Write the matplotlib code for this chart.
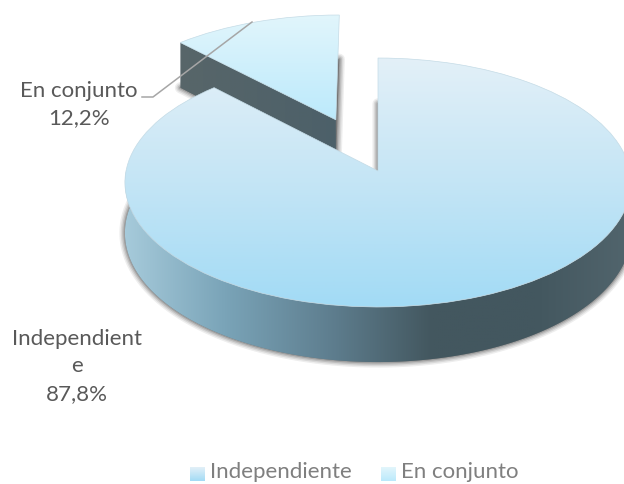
import numpy as np
import matplotlib
matplotlib.use('Agg')
import matplotlib.pyplot as plt
from matplotlib.colors import LinearSegmentedColormap
from matplotlib.patches import Polygon
from matplotlib.transforms import Transform

plt.rcParams['font.family'] = ['Lato', 'DejaVu Sans']

# Data
categories = ['Independiente', 'En conjunto']
shares = [87.8, 12.2]
share_labels = ['87,8%', '12,2%']

# Pie geometry in picture pixels
CX, CY = 378, 171
RX, RY = 252, 123.4
TILT = 0.0924
DEPTH = 50
EXPLODE = 0.465


class Tilt(Transform):
    # flat pie circle -> perspective view of the disc
    input_dims = 2
    output_dims = 2

    def transform_non_affine(self, values):
        values = np.asarray(values, dtype=float)
        w = 1 + TILT * values[:, 1]
        return np.column_stack([CX + RX * values[:, 0] / w, CY - RY * values[:, 1] / w])


def plane(u, v, drop=0):
    u = np.atleast_1d(u)
    v = np.atleast_1d(v)
    w = 1 + TILT * v
    return np.column_stack([CX + RX * u / w, CY - RY * v / w + drop / w])


def rim(center, t1, t2, drop=0, n=200):
    t = np.radians(np.linspace(t1, t2, n))
    return plane(center[0] + np.cos(t), center[1] + np.sin(t), drop)


def gradient(ax, box, colors, clip, vertical=True, z=1):
    cmap = LinearSegmentedColormap.from_list('g', colors)
    g = np.linspace(0, 1, 256)
    g = g.reshape(-1, 1) if vertical else g.reshape(1, -1)
    im = ax.imshow(g, cmap=cmap, extent=box, aspect='auto', origin='upper',
                   interpolation='bilinear', zorder=z, vmin=0, vmax=1)
    im.set_clip_path(clip)
    return im


def soft_shadow(ax, pts, z):
    for lw, a in [(8, 0.10), (6, 0.14), (4, 0.2), (2, 0.3)]:
        ax.add_patch(Polygon(pts, closed=True, facecolor=(0.35, 0.35, 0.35, a),
                             edgecolor=(0.35, 0.35, 0.35, a), lw=lw, joinstyle='round', zorder=z))


fig = plt.figure(figsize=(6.24, 4.84), dpi=100)
ax = fig.add_axes([0, 0, 1, 1])

wedges, _ = ax.pie(shares, startangle=90, counterclock=False, explode=[0, EXPLODE],
                   radius=1, frame=False)
main, piece = wedges
tilt = Tilt() + ax.transData

# exploded slice: shadow, side wall, top
z = 2
low = np.vstack([plane(*piece.center, DEPTH), rim(piece.center, piece.theta1, piece.theta2, DEPTH)])
soft_shadow(ax, low, z)
wall = np.vstack([plane(*piece.center),
                  rim(piece.center, piece.theta2, piece.theta2, n=1),
                  rim(piece.center, piece.theta2, piece.theta2, DEPTH, n=1),
                  plane(*piece.center, DEPTH)])
p = Polygon(wall, closed=True, facecolor='none', edgecolor='none', zorder=z + 1)
ax.add_patch(p)
gradient(ax, (175, 340, 160, 40), ['#586669', '#4c6069'], p, vertical=False, z=z + 1)

piece.set_transform(tilt)
piece.set_facecolor('none')
piece.set_edgecolor('#c4dbe6')
piece.set_linewidth(0.5)
piece.set_zorder(z + 3)
gradient(ax, (170, 345, 125, 10), ['#e3f6fc', '#bae9fb'], piece, z=z + 2)

# main disc: shadow, rim wall, top
z = 8
low = np.vstack([plane(*main.center, DEPTH), rim(main.center, main.theta1, main.theta2, DEPTH)])
soft_shadow(ax, low, z)
up_edge = rim(main.center, 165, 375)
lo_edge = rim(main.center, 165, 375, DEPTH)
p = Polygon(np.vstack([up_edge, lo_edge[::-1]]), closed=True, facecolor='none', edgecolor='none', zorder=z + 1)
ax.add_patch(p)
gradient(ax, (120, 640, 380, 170),
         ['#a8ccdc', '#7aa4b8', '#5f7f90', '#43575f', '#43575f', '#53666e'],
         p, vertical=False, z=z + 1)

main.set_transform(tilt)
main.set_facecolor('none')
main.set_edgecolor('#c4dbe6')
main.set_linewidth(0.5)
main.set_zorder(z + 3)
gradient(ax, (120, 640, 307, 58), ['#e3f0f8', '#c4e5f5', '#a2dbf5'], main, z=z + 2)

# leader line and labels
ax.plot([252, 153, 142], [22, 97, 97], color='#a6a6a6', lw=1.1, zorder=20)
ax.text(79, 104.5, categories[1] + '\n' + share_labels[1], ha='center', va='center', fontsize=16,
        color='#595959', linespacing=1.49, zorder=21)
ax.text(77, 366.5, categories[0][:-1] + '\n' + categories[0][-1] + '\n' + share_labels[0], ha='center',
        va='center', fontsize=16, color='#595959', linespacing=1.49, zorder=21)

# legend
for x0, name, cols in [(190, categories[0], ['#e3f0f8', '#a2dbf5']), (381, categories[1], ['#e3f6fc', '#bae9fb'])]:
    s = Polygon([(x0, 467), (x0 + 15, 467), (x0 + 15, 481), (x0, 481)], closed=True,
                facecolor='none', edgecolor='none', zorder=21)
    ax.add_patch(s)
    gradient(ax, (x0, x0 + 15, 481, 467), cols, s, z=21)
    ax.text(x0 + 20, 472.5, name, ha='left', va='center', fontsize=16, color='#7f7f7f', zorder=21)

ax.set_aspect('auto')
ax.set_xlim(0, 624)
ax.set_ylim(484, 0)
ax.axis('off')
fig.savefig('out.png', dpi=100)
